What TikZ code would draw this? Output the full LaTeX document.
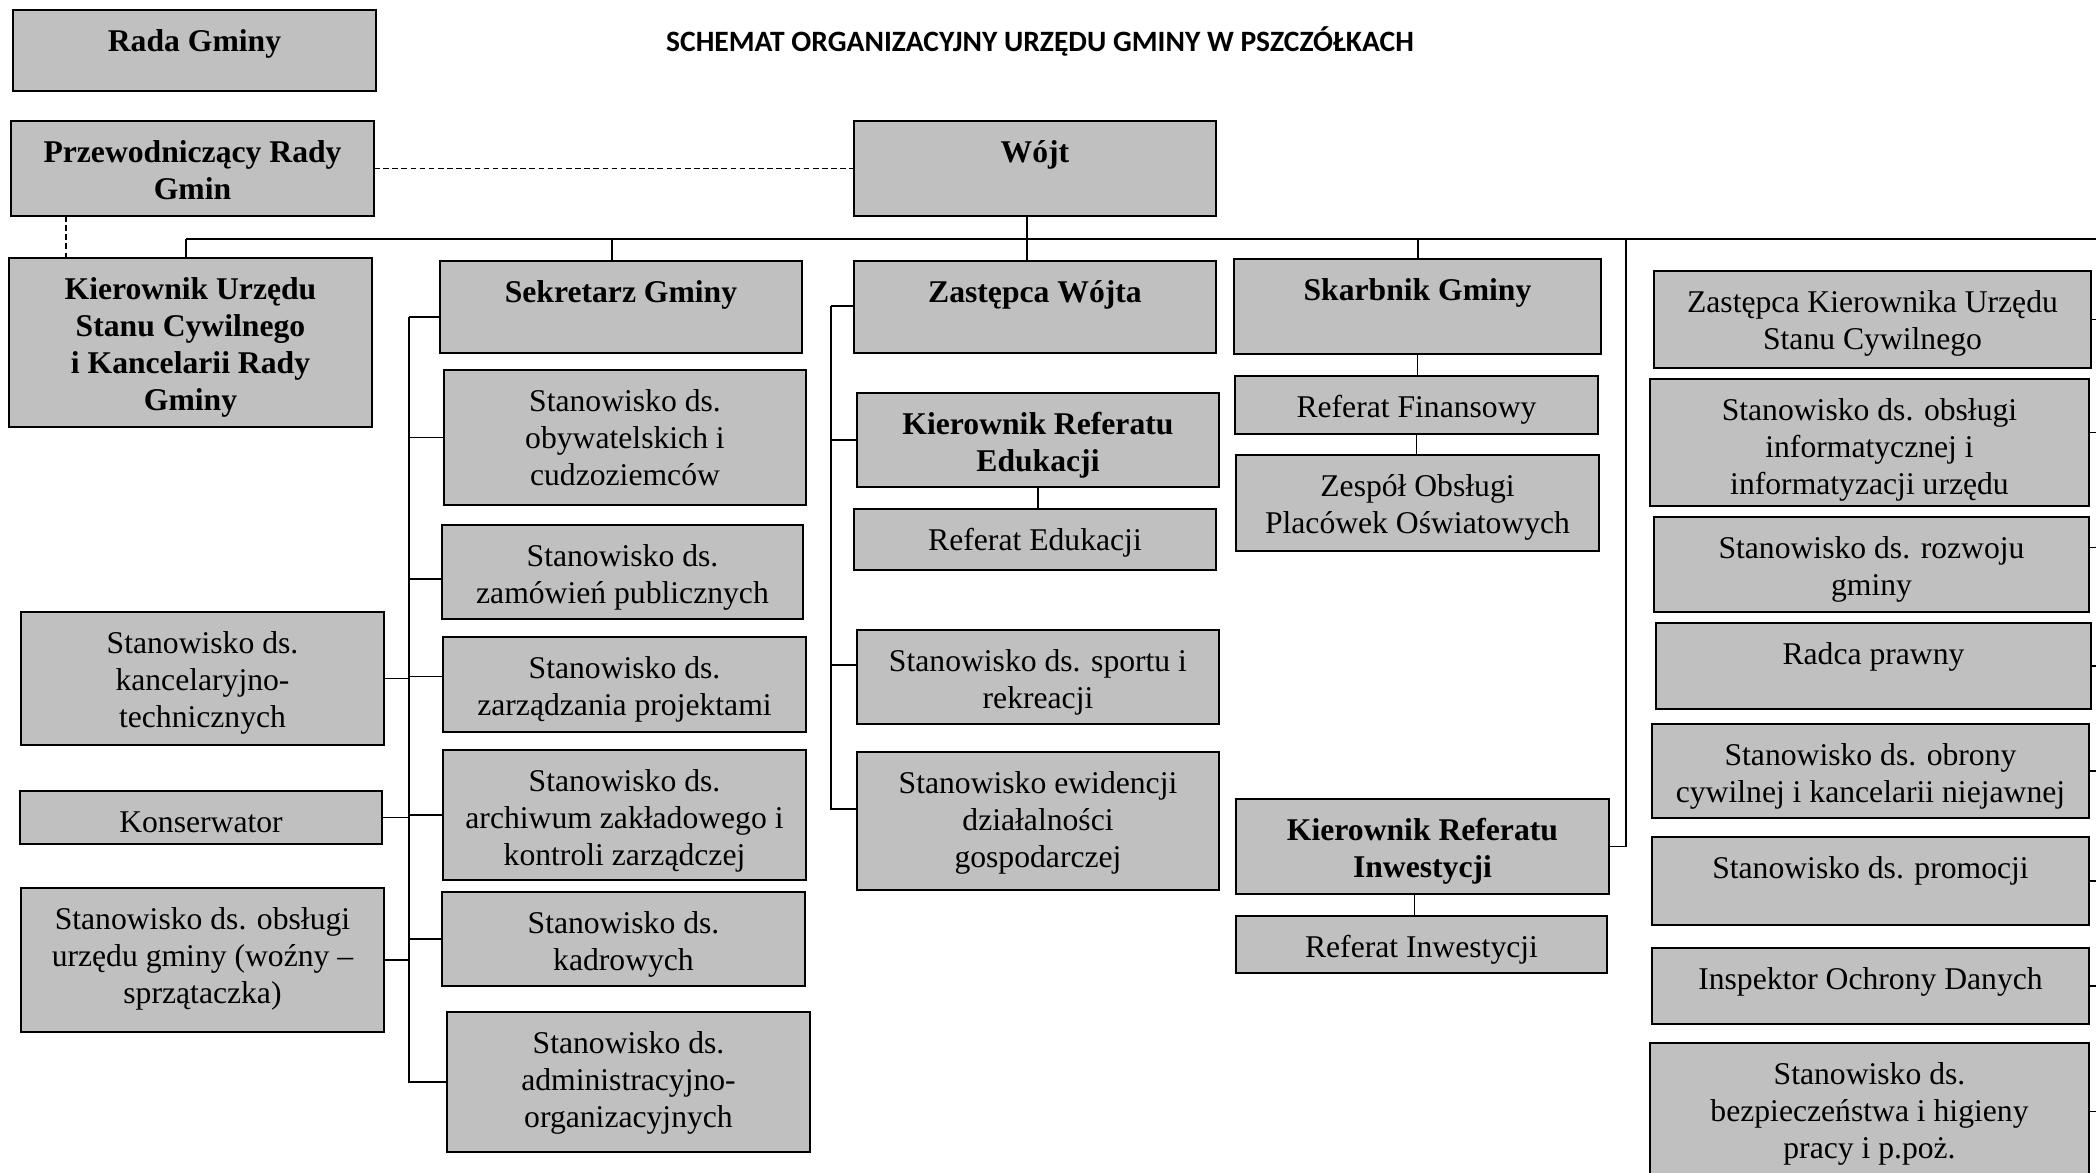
\documentclass[tikz,border=0pt]{standalone}
\usepackage{fontspec}
\setmainfont{Liberation Serif}
\newfontfamily\titlefont{Carlito}
\usetikzlibrary{calc}
\definecolor{boxfill}{RGB}{192,192,192}
\tikzset{
  orgbox/.style={draw=black, fill=boxfill, line width=0.6pt, rectangle, inner sep=0pt, outer sep=0pt},
  lbl/.style={anchor=base, inner sep=0pt, outer sep=0pt, font=\fontsize{9pt}{10.5pt}\selectfont},
  conn/.style={draw=black, line width=0.45pt},
  dashline/.style={draw=black, line width=0.45pt, dash pattern=on 1.6pt off 1pt},
  titlestyle/.style={anchor=base, inner sep=0pt, font=\titlefont\bfseries\fontsize{8.4pt}{10pt}\selectfont}
}
\newcommand\orgbx[6]{%
  \node[orgbox, anchor=north west, minimum width={(#4-#2)*0.01cm}, minimum height={(#5-#3)*0.01cm}] (#1) at (#2,#3) {};
  \node[lbl] (#1t) at ($(#1.north)+(0,41.5)$) {\parbox[t]{6cm}{\centering #6}};
}
\begin{document}
\begin{tikzpicture}[x=0.01cm, y=-0.01cm]
\useasboundingbox (0,0) rectangle (2096,1173);
\clip (0,0) rectangle (2096,1173);

\node[titlestyle] (title) at (1040,52) {SCHEMAT ORGANIZACYJNY URZĘDU GMINY W PSZCZÓŁKACH};

% top level
\orgbx{rada}{13}{10}{376}{91}{\bfseries Rada Gminy}
\orgbx{przew}{11}{121}{374}{216}{\bfseries Przewodniczący Rady\\Gmin}
\orgbx{wojt}{854}{121}{1216}{216}{\bfseries Wójt}

% second level
\orgbx{kusc}{9}{258}{372}{427}{\bfseries Kierownik Urzędu\\Stanu Cywilnego\\i Kancelarii Rady\\Gminy}
\orgbx{sek}{440}{261}{802}{353}{\bfseries Sekretarz Gminy}
\orgbx{zw}{854}{261}{1216}{353}{\bfseries Zastępca Wójta}
\orgbx{skarb}{1234}{259}{1601}{354}{\bfseries Skarbnik Gminy}

% right column
\orgbx{zkusc}{1654}{271}{2091}{368}{Zastępca Kierownika Urzędu\\Stanu Cywilnego}
\orgbx{inf}{1650}{379}{2089}{506}{Stanowisko ds. obsługi\\informatycznej i\\informatyzacji urzędu}
\orgbx{rozw}{1654}{517}{2089}{612}{Stanowisko ds. rozwoju\\gminy}
\orgbx{radca}{1656}{623}{2091}{709}{Radca prawny}
\orgbx{obr}{1652}{724}{2089}{818}{Stanowisko ds. obrony\\cywilnej i kancelarii niejawnej}
\orgbx{prom}{1652}{837}{2089}{925}{Stanowisko ds. promocji}
\orgbx{iod}{1652}{948}{2089}{1024}{Inspektor Ochrony Danych}
\orgbx{bhp}{1650}{1043}{2089}{1180}{Stanowisko ds.\\bezpieczeństwa i higieny\\pracy i p.poż.}

% zastepca column
\orgbx{kre}{857}{393}{1219}{487}{\bfseries Kierownik Referatu\\Edukacji}
\orgbx{redu}{854}{509}{1216}{570}{Referat Edukacji}
\orgbx{sport}{857}{630}{1219}{724}{Stanowisko ds. sportu i\\rekreacji}
\orgbx{ewid}{857}{752}{1219}{890}{Stanowisko ewidencji\\działalności\\gospodarczej}

% skarbnik column
\orgbx{rfin}{1235}{376}{1598}{434}{Referat Finansowy}
\orgbx{zesp}{1236}{455}{1599}{551}{Zespół Obsługi\\Placówek Oświatowych}
\orgbx{kri}{1236}{799}{1609}{894}{\bfseries Kierownik Referatu\\Inwestycji}
\orgbx{rinw}{1236}{916}{1607}{973}{Referat Inwestycji}

% sekretarz column
\orgbx{obyw}{444}{370}{806}{505}{Stanowisko ds.\\obywatelskich i\\cudzoziemców}
\orgbx{zam}{442}{525}{803}{619}{Stanowisko ds.\\zamówień publicznych}
\orgbx{zarz}{443}{637}{806}{732}{Stanowisko ds.\\zarządzania projektami}
\orgbx{arch}{443}{750}{806}{880}{Stanowisko ds.\\archiwum zakładowego i\\kontroli zarządczej}
\orgbx{kadr}{442}{892}{805}{986}{Stanowisko ds.\\kadrowych}
\orgbx{adm}{447}{1012}{810}{1152}{Stanowisko ds.\\administracyjno-\\organizacyjnych}

% left column
\orgbx{kanc}{21}{612}{384}{745}{Stanowisko ds.\\kancelaryjno-\\technicznych}
\orgbx{kons}{20}{791}{382}{844}{Konserwator}
\orgbx{obsl}{21}{888}{384}{1032}{Stanowisko ds. obsługi\\urzędu gminy (woźny –\\sprzątaczka)}

% ---------- connectors ----------
\coordinate (busL) at (186,239);
\coordinate (busR) at (2110,239);
\coordinate (sekx) at (612,239);
\coordinate (wx) at (1027,239);
\coordinate (sx) at (1418,239);
\coordinate (rx) at (1626,239);
\coordinate (sbar) at (409,317);
\coordinate (zbar) at (831,306);
\coordinate (rcol) at (2110,239);
\coordinate (px) at (66,216);

\draw[conn] (busL) -- (busR);
\draw[conn] (busL) -- (busL |- kusc.north);
\draw[conn] (sekx) -- (sekx |- sek.north);
\draw[conn] (wx |- wojt.south) -- (wx |- zw.north);
\draw[conn] (sx) -- (sx |- skarb.north);
\draw[conn] (rx) |- (kri.east);

\draw[conn] (skarb.south) -- (skarb.south |- rfin.north);
\draw[conn] (rfin.south) -- (rfin.south |- zesp.north);
\draw[conn] (kre.south) -- (kre.south |- redu.north);
\coordinate (kris) at ($(kri.south)+(-8,0)$);
\draw[conn] (kris) -- (kris |- rinw.north);

% dashed links
\draw[dashline] (przew.east) -- (przew.east -| wojt.west);
\draw[dashline] (px |- przew.south) -- (px |- kusc.north);

% zastepca bracket
\coordinate (sportS) at ($(sport.west)+(0,-12)$);
\coordinate (ewidS) at ($(ewid.west)+(0,-12)$);
\draw[conn] (zbar) -- (zbar |- ewidS) -- (ewidS);
\draw[conn] (zbar) -- (zbar -| zw.west);
\draw[conn] (zbar |- kre.west) -- (kre.west);
\draw[conn] (zbar |- sportS) -- (sportS);

% sekretarz bracket
\coordinate (sekS) at ($(sek.west)+(0,10)$);
\coordinate (zamS) at ($(zam.west)+(0,7)$);
\coordinate (zarzS) at ($(zarz.west)+(0,-8)$);
\draw[conn] (sbar) -- (sbar |- adm.west) -- (adm.west);
\draw[conn] (sbar) -- (sekS);
\draw[conn] (sbar |- obyw.west) -- (obyw.west);
\draw[conn] (sbar |- zamS) -- (zamS);
\draw[conn] (sbar |- zarzS) -- (zarzS);
\draw[conn] (sbar |- arch.west) -- (arch.west);
\draw[conn] (sbar |- kadr.west) -- (kadr.west);
\draw[conn] (kanc.east) -- (kanc.east -| sbar);
\draw[conn] (kons.east) -- (kons.east -| sbar);
\draw[conn] (obsl.east) -- (obsl.east -| sbar);

% right column stubs
\coordinate (infS) at ($(inf.east)+(0,-10)$);
\coordinate (rozwS) at ($(rozw.east)+(0,-17)$);
\draw[conn] (zkusc.east) -- (zkusc.east -| rcol);
\draw[conn] (infS) -- (infS -| rcol);
\draw[conn] (rozwS) -- (rozwS -| rcol);
\draw[conn] (radca.east) -- (radca.east -| rcol);
\draw[conn] (obr.east) -- (obr.east -| rcol);
\draw[conn] (prom.east) -- (prom.east -| rcol);
\draw[conn] (iod.east) -- (iod.east -| rcol);
\draw[conn] (bhp.east) -- (bhp.east -| rcol);
\end{tikzpicture}
\end{document}
